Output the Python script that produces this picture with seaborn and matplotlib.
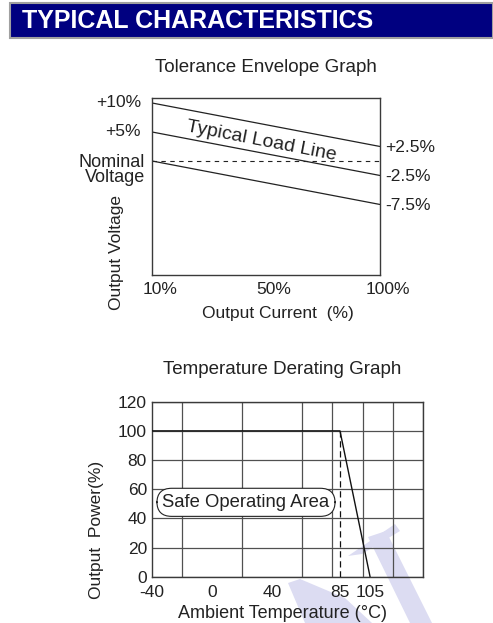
import matplotlib
matplotlib.use("Agg")
import pandas as pd
import matplotlib.pyplot as plt
import matplotlib.transforms as mtransforms
from matplotlib.patches import Rectangle, Polygon
import seaborn as sns

# =========================
# data
# =========================
current_labels = ["10%", "50%", "100%"]
load_current = ["10%", "100%"]
upper_limit = [10, 2.5]
typical_load = [5, -2.5]
lower_limit = [0, -7.5]
nominal_level = [0, 0]
left_labels = ["+10%", "+5%", "Nominal\nVoltage"]
left_values = [10, 5, 0]
right_labels = ["+2.5%", "-2.5%", "-7.5%"]
right_values = [2.5, -2.5, -7.5]

temp_ticks = [-40, 0, 40, 85, 105]
temp_grid = [-40, -20, 0, 20, 40, 60, 80, 100, 120, 140]
power_ticks = [0, 20, 40, 60, 80, 100, 120]
derating_temp = [-40, 85, 105]
derating_power = [100, 100, 0]
knee_temp = [85, 85]
knee_power = [0, 100]

W, H = 493, 623
INK = "#222222"
FRAME = "#3a3a3a"


def fx(px):
    return px / W


def fy(py):
    return 1 - py / H


sns.set_theme(style="white")
plt.rcParams["font.family"] = ["Liberation Sans", "DejaVu Sans"]
plt.rcParams["text.color"] = INK
plt.rcParams["axes.labelcolor"] = INK

fig = plt.figure(figsize=(W / 100, H / 100), dpi=100)

# header bar
fig.add_artist(Rectangle((fx(10), fy(38)), fx(493) - fx(10), fy(3) - fy(38),
                         transform=fig.transFigure, facecolor="#000080",
                         edgecolor="#a0a0a0", linewidth=1.5))
fig.text(fx(22), fy(20.5), "TYPICAL CHARACTERISTICS", color="white",
         fontweight="bold", fontsize=18, ha="left", va="center")

# faint logo watermark in the lower right
wm = "#dcdcf2"
for pts in [
    [(348, 556), (395, 524), (400, 531), (362, 554)],
    [(368, 537), (386, 531), (432, 623), (410, 623)],
    [(288, 583), (300, 579), (345, 598), (372, 623), (305, 623)],
]:
    fig.add_artist(Polygon([(fx(x), fy(y)) for x, y in pts], closed=True,
                           transform=fig.transFigure, facecolor=wm,
                           edgecolor="none", zorder=-1))

# =========================
# Tolerance envelope graph
# =========================
ax1 = fig.add_axes([fx(152), fy(275), (380 - 152) / W, (275 - 98) / H])
ax1.set_facecolor("none")
df1 = pd.DataFrame({
    "current": load_current,
    "upper": upper_limit,
    "typical": typical_load,
    "lower": lower_limit,
    "nominal": nominal_level,
})
df1["pos"] = [current_labels.index(c) for c in load_current]

for col in ["upper", "typical", "lower"]:
    sns.lineplot(data=df1, x="pos", y=col, color=INK, linewidth=0.9, ax=ax1)
sns.lineplot(data=df1, x="pos", y="nominal", color=INK, linewidth=0.8,
             linestyle=(0, (4, 4)), ax=ax1)

ax1.set_xlim(0, len(current_labels) - 1)
ax1.set_ylim(-19.66, 10.86)
ax1.set_xticks(range(len(current_labels)), current_labels)
ax1.set_yticks([])
ax1.tick_params(axis="x", direction="in", length=4, width=0.8, pad=5,
                labelsize=12.5, color=FRAME, labelcolor=INK)
shift = mtransforms.ScaledTranslation(8 / 100, 0, fig.dpi_scale_trans)
for lab in ax1.get_xticklabels():
    lab.set_transform(lab.get_transform() + shift)

for lab, v in zip(left_labels, left_values):
    if "\n" in lab:
        ax1.annotate(lab, xy=(0, v), xycoords=("axes fraction", "data"),
                     xytext=(-7, -9), textcoords="offset pixels", ha="right",
                     va="center", fontsize=13, linespacing=0.8)
    else:
        ax1.annotate(lab, xy=(0, v), xycoords=("axes fraction", "data"),
                     xytext=(-11, 0), textcoords="offset pixels", ha="right",
                     va="center", fontsize=12.5)
for lab, v in zip(right_labels, right_values):
    ax1.annotate(lab, xy=(1, v), xycoords=("axes fraction", "data"),
                 xytext=(5, -1), textcoords="offset pixels", ha="left",
                 va="center", fontsize=12.5)

ax1.text(0.96, 3.36, "Typical Load Line", rotation=-11, rotation_mode="anchor",
         ha="center", va="center", fontsize=14)

ax1.set_title("Tolerance Envelope Graph", fontsize=13.5, pad=18.7)
ax1.set_xlabel("Output Current  (%)", fontsize=12.5, va="baseline")
ax1.xaxis.set_label_coords((278 - 152) / 228, -43 / 177)
ax1.set_ylabel("Output Voltage", fontsize=12.5, va="center")
ax1.yaxis.set_label_coords((117 - 152) / 228, (275 - 253) / 177)
for sp in ax1.spines.values():
    sp.set_color(FRAME)
    sp.set_linewidth(1.0)

# =========================
# Temperature derating graph
# =========================
ax2 = fig.add_axes([fx(152), fy(576.7), (422.7 - 152) / W, (576.7 - 401.7) / H])
ax2.set_facecolor("none")
sns.lineplot(x=derating_temp, y=derating_power, color="#111111", linewidth=1.0,
             estimator=None, sort=False, ax=ax2, zorder=3)
sns.lineplot(x=knee_temp, y=knee_power, color="#111111", linewidth=0.9,
             linestyle=(0, (5, 3)), estimator=None, sort=False, ax=ax2, zorder=3)

ax2.set_xlim(temp_grid[0], temp_grid[-1])
ax2.set_ylim(power_ticks[0], power_ticks[-1])
ax2.set_xticks(temp_grid, minor=True)
ax2.set_xticks(temp_ticks, [str(t) for t in temp_ticks])
ax2.set_yticks(power_ticks, [str(p) for p in power_ticks])
ax2.xaxis.grid(True, which="minor", color="#505050", linewidth=0.9)
ax2.xaxis.grid(False, which="major")
ax2.yaxis.grid(True, which="major", color="#505050", linewidth=0.9)
ax2.tick_params(which="both", length=0, labelsize=12.5, labelcolor=INK)
ax2.tick_params(axis="x", pad=6)
ax2.tick_params(axis="y", pad=3.6)

ax2.text(22.5, 51, "Safe Operating Area", ha="center", va="center",
         fontsize=13.3, zorder=4,
         bbox=dict(boxstyle="round,pad=0.3,rounding_size=0.8", fc="white",
                   ec=INK, lw=0.8))

ax2.set_title("Temperature Derating Graph", fontsize=13.5, pad=19.9,
              x=(282 - 152) / 270.7)
ax2.set_xlabel("Ambient Temperature (°C)", fontsize=13, va="baseline")
ax2.xaxis.set_label_coords((282.5 - 152) / 270.7, (576.7 - 618) / 175)
ax2.set_ylabel("Output  Power(%)", fontsize=12.5, va="center")
ax2.yaxis.set_label_coords((97 - 152) / 270.7, (576.7 - 530) / 175)
for sp in ax2.spines.values():
    sp.set_color(FRAME)
    sp.set_linewidth(1.0)

fig.savefig("out.png", dpi=100)
